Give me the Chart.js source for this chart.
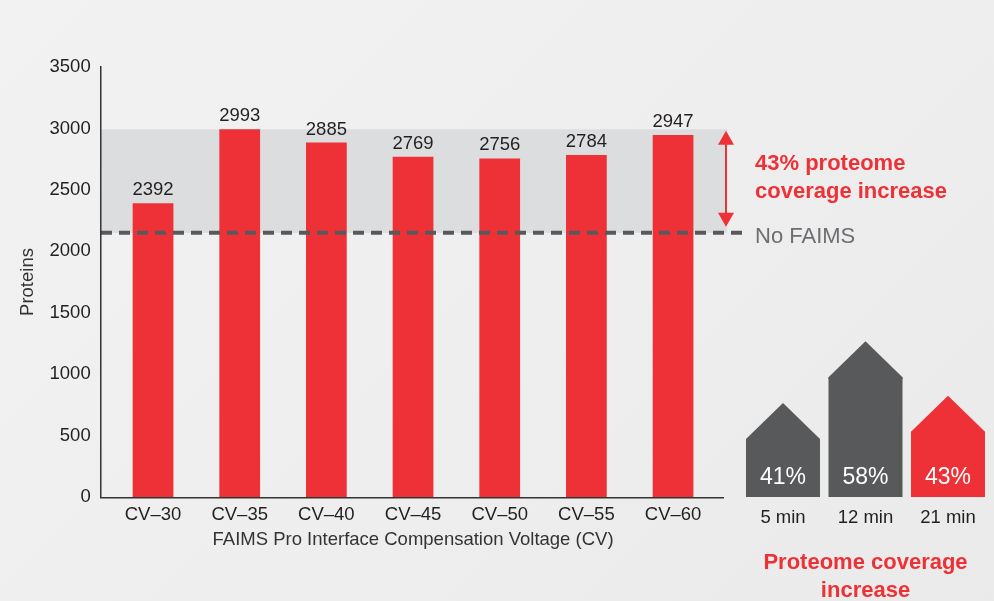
<!DOCTYPE html>
<html>
<head>
<meta charset="utf-8">
<script src="https://cdn.jsdelivr.net/npm/chart.js@4.4.0/dist/chart.umd.min.js"></script>
<style>
  html, body { margin: 0; padding: 0; width: 994px; height: 601px; overflow: hidden; }
  body { position: relative; background: linear-gradient(135deg, #f2f2f2 0%, #eeeeee 55%, #eaeaea 100%); }
  .layer { position: absolute; left: 0; top: 0; width: 994px; height: 601px; }
</style>
</head>
<body>
<div class="layer"><canvas id="main" width="994" height="601"></canvas></div>
<div class="layer"><canvas id="houses" width="994" height="601"></canvas></div>
<script>
// bar chart data
const categories = ['CV–30', 'CV–35', 'CV–40', 'CV–45', 'CV–50', 'CV–55', 'CV–60'];
const proteins = [2392, 2993, 2885, 2769, 2756, 2784, 2947];
const noFaims = 2150;
const yTicks = [0, 500, 1000, 1500, 2000, 2500, 3000, 3500];

// small "house" chart on the right
const gradientTimes = ['5 min', '12 min', '21 min'];
const coverageIncrease = [41, 58, 43];

const RED = '#ee3136';
const GRAY = '#58595b';
const BAND = '#dcdddf';
const TEXT = '#231f20';
const FONT = "'Liberation Sans', Arial, Helvetica, sans-serif";

Chart.defaults.font.family = FONT;

const overlay = {
  id: 'overlay',
  beforeDatasetsDraw(chart) {
    const { ctx, scales: { y } } = chart;
    const top = y.getPixelForValue(Math.max(...proteins));
    const base = y.getPixelForValue(noFaims);
    ctx.save();
    ctx.fillStyle = BAND;
    ctx.fillRect(101, top, 727 - 101, base - top);
    ctx.restore();
  },
  afterDatasetsDraw(chart) {
    const { ctx, chartArea, scales: { y } } = chart;
    const top = y.getPixelForValue(Math.max(...proteins));
    const base = y.getPixelForValue(noFaims);
    ctx.save();

    // value labels
    ctx.fillStyle = TEXT;
    ctx.font = '18.5px ' + FONT;
    ctx.textAlign = 'center';
    ctx.textBaseline = 'alphabetic';
    chart.getDatasetMeta(0).data.forEach((bar, i) => {
      ctx.fillText(proteins[i], bar.x, bar.y - 8);
    });

    // no FAIMS dashed line
    ctx.strokeStyle = GRAY;
    ctx.lineWidth = 4;
    ctx.setLineDash([11, 7]);
    ctx.beginPath();
    ctx.moveTo(101, base);
    ctx.lineTo(743, base);
    ctx.stroke();
    ctx.setLineDash([]);

    // axes
    ctx.strokeStyle = '#333';
    ctx.lineWidth = 1.5;
    ctx.beginPath();
    ctx.moveTo(100.75, 66);
    ctx.lineTo(100.75, chartArea.bottom + 0.75);
    ctx.lineTo(724, chartArea.bottom + 0.75);
    ctx.stroke();

    // double arrow
    const ax = 726;
    const t = top + 1.5, b = base - 6;
    ctx.strokeStyle = RED;
    ctx.fillStyle = RED;
    ctx.lineWidth = 2;
    ctx.beginPath();
    ctx.moveTo(ax, t + 10);
    ctx.lineTo(ax, b - 10);
    ctx.stroke();
    ctx.beginPath();
    ctx.moveTo(ax, t);
    ctx.lineTo(ax - 8, t + 14);
    ctx.lineTo(ax + 8, t + 14);
    ctx.closePath();
    ctx.fill();
    ctx.beginPath();
    ctx.moveTo(ax, b);
    ctx.lineTo(ax - 8, b - 14);
    ctx.lineTo(ax + 8, b - 14);
    ctx.closePath();
    ctx.fill();

    // annotations
    ctx.textAlign = 'left';
    ctx.font = 'bold 22px ' + FONT;
    ctx.fillText('43% proteome', 755, 170);
    ctx.fillText('coverage increase', 755, 198.3);
    ctx.fillStyle = '#6d6e71';
    ctx.font = '22px ' + FONT;
    ctx.fillText('No FAIMS', 755, 243.3);
    ctx.restore();
  }
};

new Chart(document.getElementById('main'), {
  type: 'bar',
  data: {
    labels: categories,
    datasets: [{
      data: proteins,
      backgroundColor: RED,
      barPercentage: 0.47,
      categoryPercentage: 1
    }]
  },
  options: {
    responsive: false,
    animation: false,
    layout: { padding: { left: 0, right: 277.6, top: 67, bottom: 0 } },
    plugins: { legend: { display: false }, tooltip: { enabled: false } },
    scales: {
      x: {
        grid: { display: false, drawTicks: false },
        border: { display: false },
        ticks: { color: TEXT, font: { size: 18.5 }, padding: 7.2 },
        title: {
          display: true,
          text: 'FAIMS Pro Interface Compensation Voltage (CV)',
          color: '#333',
          font: { size: 18.5 },
          padding: { top: 0, bottom: 50.4 }
        },
        afterFit: (s) => { s.height = 104; }
      },
      y: {
        min: 0,
        max: 3500,
        grid: { display: false, drawTicks: false },
        border: { display: false },
        afterBuildTicks: (s) => { s.ticks = yTicks.map(v => ({ value: v })); },
        ticks: { color: TEXT, font: { size: 18.5 }, padding: 19, callback: (v) => String(v) },
        title: {
          display: true,
          text: 'Proteins',
          color: '#333',
          font: { size: 18.5 },
          padding: { top: 16.4, bottom: 0 }
        },
        afterFit: (s) => { s.width = 109.7; }
      }
    }
  },
  plugins: [overlay]
});

const roofs = {
  id: 'roofs',
  afterDatasetsDraw(chart) {
    const { ctx, chartArea } = chart;
    const meta = chart.getDatasetMeta(0);
    ctx.save();
    meta.data.forEach((bar, i) => {
      const half = bar.width / 2;
      ctx.fillStyle = bar.options.backgroundColor;
      ctx.beginPath();
      ctx.moveTo(bar.x - half, bar.y + 2);
      ctx.lineTo(bar.x - half, bar.y);
      ctx.lineTo(bar.x, bar.y - 36);
      ctx.lineTo(bar.x + half, bar.y);
      ctx.lineTo(bar.x + half, bar.y + 2);
      ctx.closePath();
      ctx.fill();

      ctx.fillStyle = '#ffffff';
      ctx.font = '23px ' + FONT;
      ctx.textAlign = 'center';
      ctx.textBaseline = 'middle';
      ctx.fillText(coverageIncrease[i] + '%', bar.x, chartArea.bottom - 19.5);
    });
    ctx.restore();
  }
};

new Chart(document.getElementById('houses'), {
  type: 'bar',
  data: {
    labels: gradientTimes,
    datasets: [{
      data: coverageIncrease,
      backgroundColor: [GRAY, GRAY, RED],
      barPercentage: 0.897,
      categoryPercentage: 1
    }]
  },
  options: {
    responsive: false,
    animation: false,
    layout: { padding: { left: 741.75, right: 4.75, top: 333.8, bottom: 0 } },
    plugins: { legend: { display: false }, tooltip: { enabled: false } },
    scales: {
      x: {
        grid: { display: false, drawTicks: false },
        border: { display: false },
        ticks: { color: TEXT, font: { size: 18.5 }, padding: 9.9 },
        title: {
          display: true,
          text: ['Proteome coverage', 'increase'],
          color: RED,
          font: { size: 22, weight: 'bold', lineHeight: 1.3045 },
          padding: { top: 0, bottom: -4.55 }
        },
        afterFit: (s) => { s.height = 104; }
      },
      y: { display: false, min: 25, max: 70 }
    }
  },
  plugins: [roofs]
});
</script>
</body>
</html>
